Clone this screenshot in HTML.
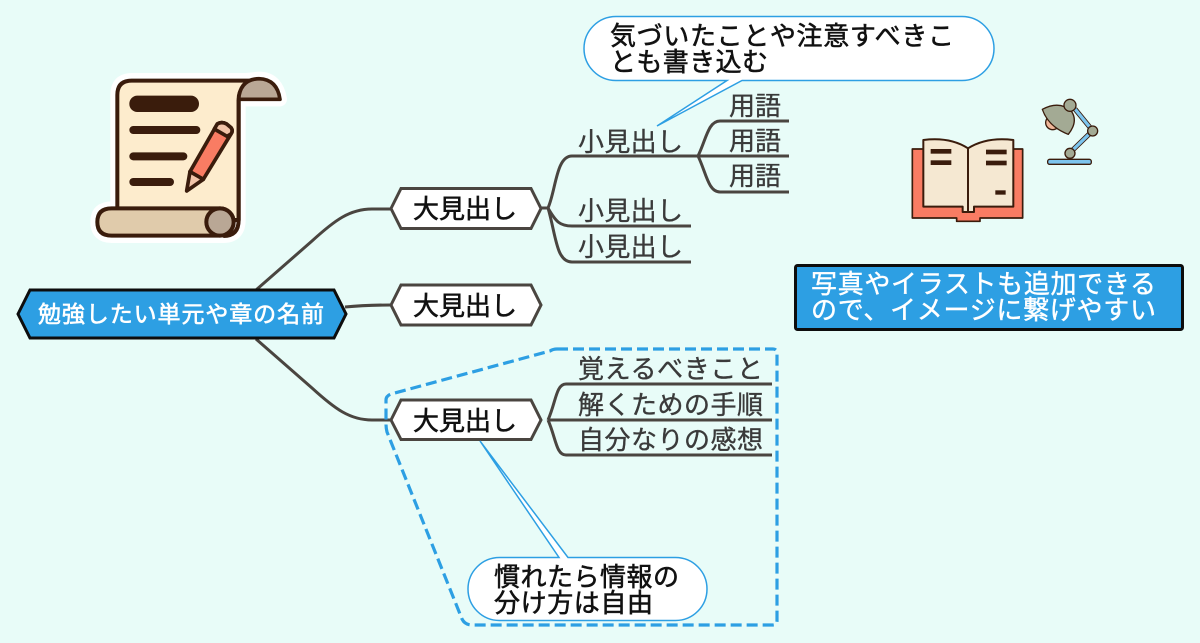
<!DOCTYPE html>
<html lang="ja"><head><meta charset="utf-8"><title>mindmap</title>
<style>
html,body{margin:0;padding:0;background:#e8fcf8;}
svg{display:block;}
text{font-family:"Liberation Sans","Noto Sans CJK JP",sans-serif;}
.k{font-size:26px;fill:#111;font-weight:400;stroke:#111;stroke-width:.55px;}
.s{font-size:26px;fill:#3a3a3a;stroke:#3a3a3a;stroke-width:.35px;}
.w{font-size:26px;fill:#fff;font-weight:400;stroke:#fff;stroke-width:.4px;}
.r{font-size:23px;fill:#fff;font-weight:400;stroke:#fff;stroke-width:.6px;}
</style></head><body>
<svg width="1200" height="643" viewBox="0 0 1200 643" xmlns="http://www.w3.org/2000/svg">
<rect width="1200" height="643" fill="#e8fcf8"/>

<!-- scroll icon -->
<g transform="translate(80,60) scale(0.3333)">
 <path d="M112 445V105Q112 60 155 60H500Q530 56 540 56Q590 58 600 118H476V480Q476 528 430 528H95Q52 528 52 486Q52 445 95 445Z" fill="#fff" stroke="#fff" stroke-width="42" stroke-linejoin="round"/>
 <path d="M112 445V105Q112 62 155 62H525Q476 75 476 118V480H112Z" fill="#fdeccd" stroke="#3a1c0c" stroke-width="12" stroke-linejoin="round"/>
 <path d="M476 118Q480 58 537 56Q592 58 600 118Z" fill="#b9a795" stroke="#3a1c0c" stroke-width="11" stroke-linejoin="round"/>
 <rect x="148" y="107" width="209" height="49" rx="24" fill="#3a1c0c"/>
 <rect x="148" y="198" width="213" height="24" rx="12" fill="#3a1c0c"/>
 <rect x="148" y="277" width="174" height="24" rx="12" fill="#3a1c0c"/>
 <rect x="148" y="354" width="134" height="24" rx="12" fill="#3a1c0c"/>
 <path d="M476 120V480Q476 528 430 528" fill="none" stroke="#3a1c0c" stroke-width="12"/>
 <path d="M95 445H420A41 41 0 0 1 420 527H95Q52 527 52 486Q52 445 95 445Z" fill="#e0cbab" stroke="#3a1c0c" stroke-width="12"/>
 <circle cx="420" cy="486" r="41" fill="#b9a795" stroke="#3a1c0c" stroke-width="12"/>
 <!-- pencil -->
 <path d="M412 192Q425 184 440 192L453 203Q460 212 453 222L370 358L330 335Z" fill="#f97c63" stroke="#3a1c0c" stroke-width="11" stroke-linejoin="round"/>
 <path d="M330 335L370 358L320 393Z" fill="#f2c4a8" stroke="#3a1c0c" stroke-width="11" stroke-linejoin="round"/>
 <path d="M412 192Q425 184 440 192L453 203Q460 212 453 222L441 229L403 207Z" fill="#f2c4a8" stroke="#3a1c0c" stroke-width="11" stroke-linejoin="round"/>
</g>

<!-- book + lamp -->
<g transform="translate(900,90) scale(0.3333)">
 <path d="M37 177H368V384H240V394H170V384H37Z" fill="#f97c63" stroke="#3a1c0c" stroke-width="5" stroke-linejoin="round"/>
 <path d="M70 150Q150 140 204 175Q260 140 340 150V350H222V366H188V350H70Z" fill="#f5e8d2" stroke="#3a1c0c" stroke-width="6" stroke-linejoin="round"/>
 <path d="M204 175V366" stroke="#3a1c0c" stroke-width="6" fill="none"/>
 <rect x="92" y="177" width="62" height="14" fill="#3a1c0c"/>
 <rect x="92" y="211" width="62" height="14" fill="#3a1c0c"/>
 <rect x="258" y="179" width="62" height="14" fill="#3a1c0c"/>
 <rect x="258" y="212" width="62" height="14" fill="#3a1c0c"/>
 <rect x="286" y="301" width="31" height="13" fill="#3a1c0c"/>
 <!-- lamp -->
 <path d="M525 57L578 122L510 188" fill="none" stroke="#3a1c0c" stroke-width="15" stroke-linejoin="round"/>
 <path d="M525 57L578 122L510 188" fill="none" stroke="#7cc4ee" stroke-width="10" stroke-linejoin="round"/>
 <rect x="443" y="208" width="131" height="15" rx="6" fill="#7cc4ee" stroke="#3a1c0c" stroke-width="4"/>
 <circle cx="510" cy="190" r="15" fill="#a3aa94" stroke="#3a1c0c" stroke-width="4"/>
 <circle cx="578" cy="123" r="15" fill="#a3aa94" stroke="#3a1c0c" stroke-width="4"/>
 <circle cx="458" cy="98" r="21" fill="#f0b79a" stroke="#3a1c0c" stroke-width="4"/>
 <path d="M427 58Q480 30 515 65Q535 95 505 133Q445 110 427 58Z" fill="#a3aa94" stroke="#3a1c0c" stroke-width="4" stroke-linejoin="round"/>
 <circle cx="510" cy="46" r="18" fill="#a3aa94" stroke="#3a1c0c" stroke-width="4"/>
</g>

<!-- connectors -->
<g fill="none" stroke="#4a4540" stroke-width="3">
 <path d="M256 290L312 241C335 220 350 209 372 209H391"/>
 <path d="M345 307Q365 305 391 305"/>
 <path d="M256 339L312 388C335 409 350 420 372 420H391"/>
 <path d="M541 208H548C556 190 556 156 572 156H789"/>
 <path d="M548 208C556 222 560 226 572 226H691"/>
 <path d="M548 208C556 235 556 262 572 262H691"/>
 <path d="M698 156C706 140 708 121 720 121H789"/>
 <path d="M698 156C706 172 708 192 720 192H789"/>
 <path d="M548 420C556 402 556 384 566 384H772"/>
 <path d="M548 420H772"/>
 <path d="M548 420C556 438 556 455 566 455H772"/>
</g>

<!-- dashed region -->
<path d="M557 349H773Q777 349 777 353V621Q777 625 773 625H472Q465 625 462 619L387 432Q386 428 386 424V400Q386 396 391 394L550 351Q553 349 557 349Z" fill="none" stroke="#2d9fe3" stroke-width="3.200" stroke-dasharray="11 5"/>

<!-- root -->
<polygon points="18,314 30,290 334,290 346,314 334,338 30,338" fill="#2d9fe3" stroke="#0d0d0d" stroke-width="3" stroke-linejoin="miter"/>
<text class="r" x="38" y="322" textLength="286">勉強したい単元や章の名前</text>

<!-- hex nodes -->
<g fill="#fff" stroke="#4a4540" stroke-width="3">
 <polygon points="391,208.500 401,188.500 531,188.500 541,208.500 531,228.500 401,228.500"/>
 <polygon points="391,305 401,285 531,285 541,305 531,325 401,325"/>
 <polygon points="391,420 401,400 531,400 541,420 531,439.500 401,439.500"/>
</g>
<text class="k" x="413" y="218" textLength="104">大見出し</text>
<text class="k" x="413" y="315" textLength="104">大見出し</text>
<text class="k" x="413" y="430" textLength="104">大見出し</text>

<!-- sub labels -->
<text class="s" x="578" y="151" textLength="105">小見出し</text>
<text class="s" x="578" y="220" textLength="105">小見出し</text>
<text class="s" x="578" y="256" textLength="105">小見出し</text>
<text class="s" x="729" y="115" textLength="52">用語</text>
<text class="s" x="729" y="150" textLength="52">用語</text>
<text class="s" x="729" y="185" textLength="52">用語</text>
<text class="s" x="578" y="378" textLength="185">覚えるべきこと</text>
<text class="s" x="578" y="414" textLength="185">解くための手順</text>
<text class="s" x="578" y="449" textLength="185">自分なりの感想</text>

<!-- top callout -->
<path d="M616 16.500H962A32 32 0 0 1 962 80.500H742L657 126L727 80.500H616A32 32 0 0 1 616 16.500Z" fill="#fff" stroke="#2d9fe3" stroke-width="1.500"/>
<text class="k" x="610" y="45" textLength="344">気づいたことや注意すべきこ</text>
<text class="k" x="610" y="71" textLength="158">とも書き込む</text>

<!-- bottom callout -->
<path d="M499.500 557.500H559L480 441L568 557.500H675.500A31.500 31.500 0 0 1 675.500 620.500H499.500A31.500 31.500 0 0 1 499.500 557.500Z" fill="#fff" stroke="#2d9fe3" stroke-width="1.500"/>
<text class="k" x="494" y="586" textLength="185">慣れたら情報の</text>
<text class="k" x="494" y="612" textLength="159">分け方は自由</text>

<!-- note box -->
<rect x="795.500" y="265.500" width="387" height="64" rx="2" fill="#2d9fe3" stroke="#0d0d0d" stroke-width="3"/>
<text class="w" x="811" y="293" textLength="345">写真やイラストも追加できる</text>
<text class="w" x="811" y="319" textLength="345">ので、イメージに繋げやすい</text>
</svg>
</body></html>
